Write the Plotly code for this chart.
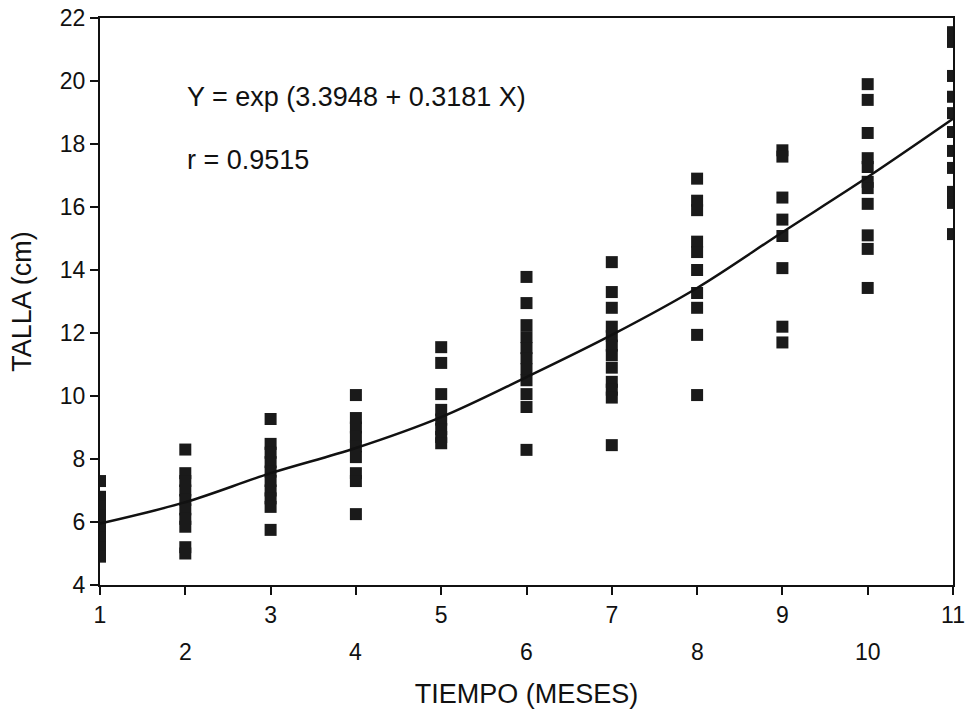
import plotly.graph_objects as go

months = [1, 2, 3, 4, 5, 6, 7, 8, 9, 10, 11]

talla_m1 = [7.3, 6.8, 6.5, 6.2, 6.0, 5.8, 5.5, 5.2, 4.9]
talla_m2 = [8.3, 7.55, 7.3, 7.0, 6.7, 6.4, 6.1, 5.85, 5.2, 5.0]
talla_m3 = [9.27, 8.48, 8.2, 7.9, 7.6, 7.3, 7.0, 6.75, 6.48, 5.75]
talla_m4 = [10.03, 9.3, 9.0, 8.7, 8.4, 8.06, 7.55, 7.3, 6.25]
talla_m5 = [11.55, 11.05, 10.06, 9.56, 9.25, 8.95, 8.7, 8.5]
talla_m6 = [13.78, 12.95, 12.25, 11.87, 11.52, 11.2, 10.85, 10.5, 10.06, 9.65, 8.29]
talla_m7 = [14.25, 13.3, 12.8, 12.2, 11.9, 11.6, 11.3, 10.9, 10.45, 10.2, 9.95, 8.44]
talla_m8 = [16.9, 16.2, 15.9, 14.9, 14.57, 14.0, 13.27, 12.8, 11.94, 10.03]
talla_m9 = [17.8, 17.6, 16.3, 15.6, 15.08, 14.06, 12.2, 11.7]
talla_m10 = [19.9, 19.4, 18.35, 17.55, 17.27, 16.8, 16.6, 16.1, 15.1, 14.67, 13.43]
talla_m11 = [21.55, 21.24, 20.16, 19.5, 18.98, 18.38, 17.78, 17.24, 16.48, 16.13, 15.14]

fitted = [5.95, 6.63, 7.55, 8.35, 9.33, 10.6, 11.94, 13.43, 15.2, 16.95, 18.8]

y_ticks = [4, 6, 8, 10, 12, 14, 16, 18, 20, 22]
odd_labels = ["1", "", "3", "", "5", "", "7", "", "9", "", "11"]
even_labels = ["", "2", "", "4", "", "6", "", "8", "", "10", ""]

equation_text = "Y = exp (3.3948 + 0.3181 X)"
r_text = "r = 0.9515"
x_title = "TIEMPO (MESES)"
y_title = "TALLA (cm)"

all_talla = [talla_m1, talla_m2, talla_m3, talla_m4, talla_m5, talla_m6,
             talla_m7, talla_m8, talla_m9, talla_m10, talla_m11]
xs, ys = [], []
for m, vals in zip(months, all_talla):
    xs += [m] * len(vals)
    ys += vals

FONT = "Liberation Sans, Arial, sans-serif"
INK = "#111111"
TICK_SIZE = 23
TEXT_SIZE = 27

fig = go.Figure()
fig.add_trace(go.Scatter(
    x=xs, y=ys, mode="markers",
    marker=dict(symbol="square", size=12, color="#1a1a1a", line=dict(width=0)),
    showlegend=False, hoverinfo="x+y"))
fig.add_trace(go.Scatter(
    x=months, y=fitted, mode="lines",
    line=dict(color=INK, width=2.5, shape="spline"),
    showlegend=False))

annotations = []
for m, lab in zip(months, even_labels):
    if lab:
        annotations.append(dict(x=m, y=-0.118, xref="x", yref="paper", text=lab,
                                showarrow=False, font=dict(family=FONT, size=TICK_SIZE, color=INK),
                                xanchor="center", yanchor="middle"))
annotations.append(dict(x=0.100, y=0.860, xref="paper", yref="paper", text=equation_text,
                        showarrow=False, font=dict(family=FONT, size=TEXT_SIZE, color=INK),
                        xanchor="left", yanchor="middle"))
annotations.append(dict(x=0.100, y=0.749, xref="paper", yref="paper", text=r_text,
                        showarrow=False, font=dict(family=FONT, size=TEXT_SIZE, color=INK),
                        xanchor="left", yanchor="middle"))

fig.update_layout(
    width=969, height=709,
    margin=dict(l=100, r=16, t=18, b=124),
    paper_bgcolor="white", plot_bgcolor="white",
    font=dict(family=FONT, size=TEXT_SIZE, color=INK),
    annotations=annotations,
    xaxis=dict(range=[1, 11], tickvals=months, ticktext=odd_labels, automargin=False,
               ticks="outside", ticklen=8, tickwidth=2, tickcolor=INK,
               showline=True, linecolor=INK, linewidth=2, mirror=True,
               showgrid=False, zeroline=False,
               tickfont=dict(family=FONT, size=TICK_SIZE, color=INK),
               title=dict(text=x_title, font=dict(family=FONT, size=TEXT_SIZE, color=INK), standoff=58)),
    yaxis=dict(range=[4, 22], tickvals=y_ticks, automargin=False,
               ticks="outside", ticklen=8, tickwidth=2, tickcolor=INK,
               showline=True, linecolor=INK, linewidth=2, mirror=True,
               showgrid=False, zeroline=False,
               tickfont=dict(family=FONT, size=TICK_SIZE, color=INK),
               title=dict(text=y_title, font=dict(family=FONT, size=TEXT_SIZE, color=INK), standoff=20)),
)

fig.write_html("out.html")
